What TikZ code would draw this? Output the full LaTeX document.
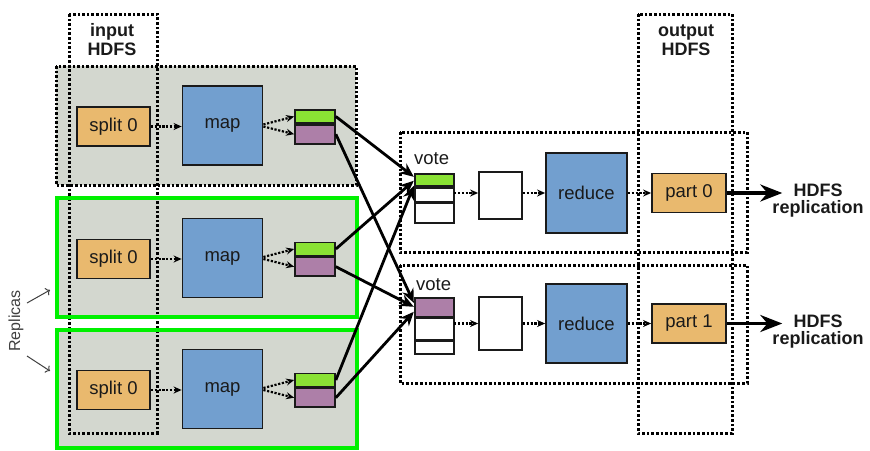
\documentclass[tikz,border=0pt]{standalone}
\usepackage{fontspec}
\setmainfont{Liberation Sans}
\usetikzlibrary{arrows.meta,calc}
\definecolor{alu}{HTML}{D3D7CF}
\definecolor{orangeT}{HTML}{E9B96E}
\definecolor{blueT}{HTML}{729FCF}
\definecolor{greenT}{HTML}{8AE234}
\definecolor{plumT}{HTML}{AD7FA8}
\definecolor{lime}{HTML}{00F000}
\definecolor{ink}{HTML}{1A1A1A}
\tikzset{
  txt/.style={font=\fontsize{18.5}{20}\selectfont, text=ink},
  boldtxt/.style={font=\fontsize{18}{19}\selectfont\bfseries, text=ink, align=center, inner sep=0pt},
  box/.style={draw=ink, line width=1.8pt, inner sep=0pt, txt},
  splitbox/.style={box, fill=orangeT, minimum width=73pt, minimum height=39pt},
  mapbox/.style={box, fill=blueT, minimum width=80pt, minimum height=79pt},
  partbox/.style={box, fill=orangeT, minimum width=74pt, minimum height=39pt},
  cell/.style={draw=ink, line width=1.7pt, inner sep=0pt, minimum width=40pt},
  dotframe/.style={draw=black, line width=3pt, dash pattern=on 2.6pt off 2pt},
  dotarrow/.style={draw=black, line width=2.2pt, dash pattern=on 2.2pt off 1.6pt,
    -{Stealth[length=8pt,width=7pt]}},
  fatarrow/.style={draw=black, line width=2.8pt, -{Stealth[length=14pt,width=12pt]}},
  bigarrow/.style={draw=black, line width=3.4pt, -{Stealth[length=22pt,width=17pt]}},
}
\begin{document}
\begin{tikzpicture}[x=1pt,y=-1pt]
\useasboundingbox (0,0) rectangle (870,450);

% map-side containers
\path[fill=alu, dotframe] (56,66) rectangle (356,185);
\path[fill=alu] (57,198) rectangle (357,317);
\path[fill=alu] (57,330) rectangle (357,448);

% input HDFS column
\draw[dotframe] (69,14) rectangle (157,433);
\node[boldtxt] (inlab) at (112,40) {input\\HDFS};

% replica frames
\draw[lime, line width=4pt] (57,198) rectangle (357,317);
\draw[lime, line width=4pt] (57,330) rectangle (357,448);

% output HDFS column and reduce-side containers
\draw[dotframe] (638,14) rectangle (732,433);
\node[boldtxt] (outlab) at (686,40) {output\\HDFS};
\draw[dotframe] (400,132) rectangle (747,252);
\draw[dotframe] (400,265) rectangle (747,383);

% three map replicas
\foreach \i/\y in {1/126.5, 2/259, 3/390}{
  \node[splitbox] (s\i) at (113.5,\y) {split 0};
  \node[mapbox] (m\i) at (222.5,\y-1) {map};
  \node[cell, fill=greenT, minimum height=13pt] (g\i) at (315,\y-10) {};
  \node[cell, fill=plumT, minimum height=19pt, anchor=north] (p\i) at (g\i.south) {};
  \draw[dotarrow] (s\i) -- (s\i -| m\i.west);
  \draw[dotarrow] ($(m\i.east)+(0,-1)$) -- (g\i.west);
  \draw[dotarrow] ($(m\i.east)+(0,1)$) -- (p\i.west);
}

% vote buffers
\node[minimum width=39pt, minimum height=46pt, inner sep=0pt] (vs1) at (434.5,196) {};
\node[cell, minimum width=39pt, minimum height=12.5pt, fill=greenT, anchor=north] (v1a) at (vs1.north) {};
\node[cell, minimum width=39pt, minimum height=13.5pt, fill=white, anchor=north] (v1b) at (v1a.south) {};
\node[cell, minimum width=39pt, minimum height=20pt, fill=white, anchor=north] (v1c) at (v1b.south) {};
\node[txt, anchor=base west, inner sep=0pt] (vl1) at (414,164) {vote};

\node[minimum width=39pt, minimum height=53pt, inner sep=0pt] (vs2) at (434.5,323.5) {};
\node[cell, minimum width=39pt, minimum height=19pt, fill=plumT, anchor=north] (v2a) at (vs2.north) {};
\node[cell, minimum width=39pt, minimum height=21pt, fill=white, anchor=north] (v2b) at (v2a.south) {};
\node[cell, minimum width=39pt, minimum height=13pt, fill=white, anchor=north] (v2c) at (v2b.south) {};
\node[txt, anchor=base west, inner sep=0pt] (vl2) at (416,290) {vote};

% reduce chains
\node[box, fill=white, minimum width=43pt, minimum height=47pt] (w1) at (500.5,195.5) {};
\node[box, fill=blueT, minimum width=81pt, minimum height=80pt] (r1) at (586.5,193) {reduce};
\node[partbox] (pt0) at (689,193) {part 0};
\node[box, fill=white, minimum width=43pt, minimum height=53pt] (w2) at (500.5,323.5) {};
\node[box, fill=blueT, minimum width=81pt, minimum height=79pt] (r2) at (586.5,323.5) {reduce};
\node[partbox] (pt1) at (689,323.5) {part 1};

\draw[dotarrow] (vs1.east |- r1) -- (w1.west |- r1);
\draw[dotarrow] (w1.east |- r1) -- (r1);
\draw[dotarrow] (r1) -- (pt0);
\draw[dotarrow] (vs2.east |- r2) -- (w2.west |- r2);
\draw[dotarrow] (w2.east |- r2) -- (r2);
\draw[dotarrow] (r2) -- (pt1);

% HDFS replication outputs
\node[boldtxt, font=\fontsize{18}{17}\selectfont\bfseries] (hr0) at (818,201) {HDFS\\replication};
\node[boldtxt, font=\fontsize{18}{17}\selectfont\bfseries] (hr1) at (818,331.5) {HDFS\\replication};
\coordinate (e0) at ($(pt0 -| hr0.west)+(10,0)$);
\coordinate (e1) at ($(pt1 -| hr1.west)+(10,0)$);
\draw[bigarrow] (pt0) -- (e0);
\draw[bigarrow] (pt1) -- (e1);

% shuffle of map outputs into the vote buffers
\coordinate (t1a) at ($(vs1.north west)+(-1,4)$);
\coordinate (t1b) at ($(vs1.north west)+(-1,8)$);
\coordinate (t1c) at ($(vs1.north west)+(-1,13)$);
\coordinate (t2a) at ($(vs2.north west)+(-1,6)$);
\coordinate (t2b) at ($(vs2.north west)+(-1,10)$);
\coordinate (t2c) at ($(vs2.north west)+(-1,15)$);
\draw[fatarrow] (g1.east) -- (t1a);
\draw[fatarrow] (g2.east) -- (t1b);
\draw[fatarrow] (g3.east) -- (t1c);
\draw[fatarrow] (p1.east) -- (t2a);
\draw[fatarrow] (p2.east) -- (t2b);
\draw[fatarrow] (p3.east) -- (t2c);

% replicas annotation
\node[font=\fontsize{16}{16}\selectfont, text=black!75, rotate=90, inner sep=0pt] (rep) at (16,321) {Replicas};
\coordinate (ra0) at (27,303);
\coordinate (ra1) at (50,290);
\coordinate (rb0) at (27,356);
\coordinate (rb1) at (50,371);
\draw[black!75, line width=1pt, -{To[length=4pt]}] (ra0) -- (ra1);
\draw[black!75, line width=1pt, -{To[length=4pt]}] (rb0) -- (rb1);
\end{tikzpicture}
\end{document}
